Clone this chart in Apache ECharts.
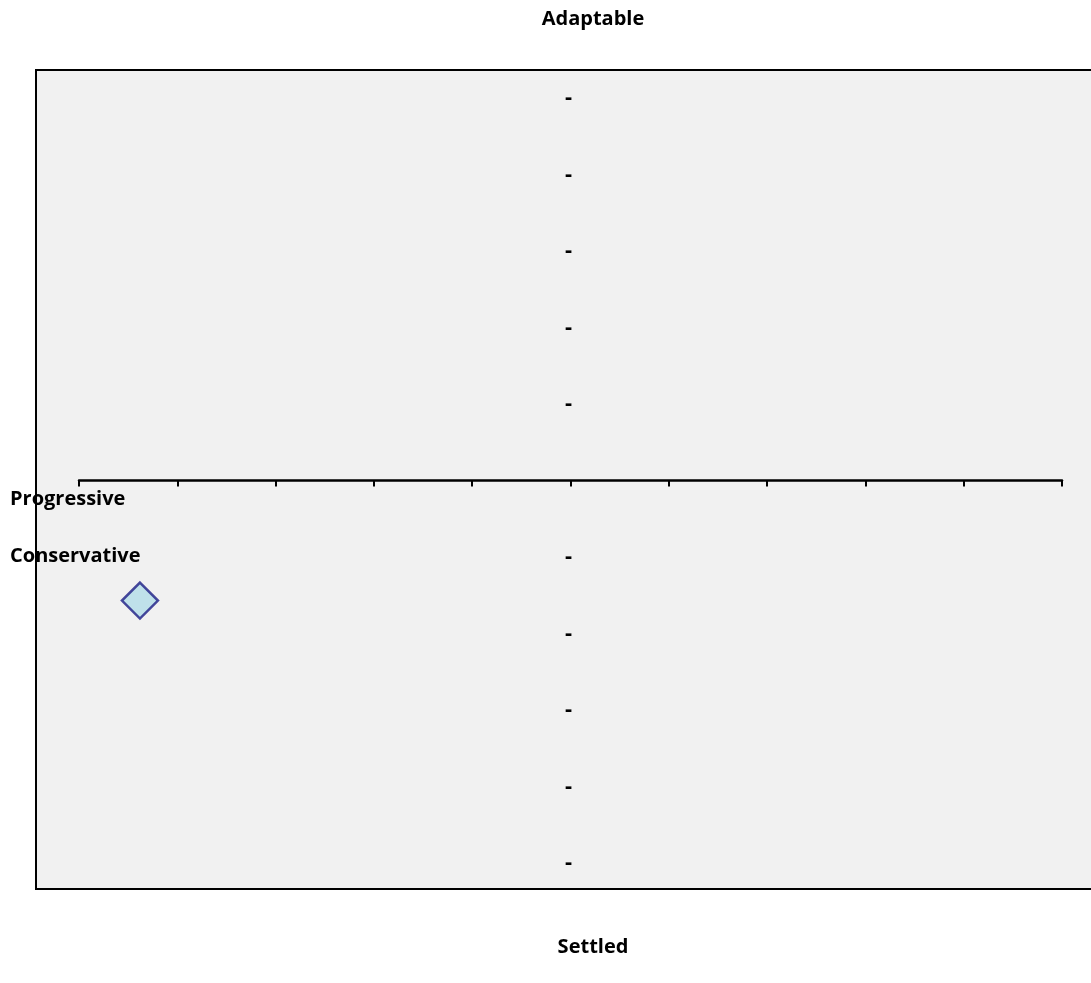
<!DOCTYPE html>
<html>
<head>
<meta charset="utf-8">
<title>Adaptable / Settled</title>
<script src="https://cdn.jsdelivr.net/npm/echarts@6/dist/echarts.min.js"></script>
<style>
  html, body { margin: 0; padding: 0; background: #ffffff; }
  #chart { width: 1091px; height: 983px; }
</style>
</head>
<body>
<div id="chart"></div>
<script>
// Axis extents (both axes run symmetric around zero)
const xRange = [-5, 5];
const yRange = [-5, 5];
const tickStep = 1;

// Plotted position
const pointX = [-4.38];
const pointY = [-1.57];

// Pole labels
const topLabel = 'Adaptable';
const bottomLabel = 'Settled';
const leftLabels = ['Progressive', 'Conservative'];

const FONT = '"Open Sans", "Noto Sans", sans-serif';
const GRID = { left: 79, right: 29, top: 98, bottom: 120 };

const chart = echarts.init(document.getElementById('chart'), null, { renderer: 'canvas' });

const option = {
  backgroundColor: '#ffffff',
  animation: false,
  grid: Object.assign({ containLabel: false }, GRID),
  xAxis: {
    type: 'value',
    min: xRange[0], max: xRange[1], interval: tickStep,
    axisLine: { show: true, onZero: true, lineStyle: { color: '#000', width: 2.5 } },
    axisTick: { show: true, length: 6, lineStyle: { color: '#000', width: 2 } },
    axisLabel: { show: false },
    splitLine: { show: false }
  },
  yAxis: {
    type: 'value',
    min: yRange[0], max: yRange[1], interval: tickStep,
    axisLine: { show: false, onZero: false },
    axisTick: { show: false },
    axisLabel: {
      show: true,
      formatter: v => (v === 0 ? '' : '-'),
      align: 'center',
      margin: 2,
      color: '#000',
      fontWeight: 'bold',
      fontSize: 22,
      fontFamily: FONT
    },
    splitLine: { show: false }
  },
  graphic: [
    {
      type: 'rect', z: -10, silent: true,
      shape: { x: 36, y: 70, width: 1080, height: 819 },
      style: { fill: '#f1f1f1', stroke: '#000', lineWidth: 2 }
    },
    {
      type: 'text', x: 593, y: 19,
      style: { text: topLabel, textAlign: 'center', textVerticalAlign: 'middle',
               font: 'bold 20px ' + FONT, fill: '#000' }
    },
    {
      type: 'text', x: 593, y: 947,
      style: { text: bottomLabel, textAlign: 'center', textVerticalAlign: 'middle',
               font: 'bold 20px ' + FONT, fill: '#000' }
    },
    {
      type: 'text', x: 10, y: 499,
      style: { text: leftLabels[0], textAlign: 'left', textVerticalAlign: 'middle',
               font: 'bold 20px ' + FONT, fill: '#000' }
    },
    {
      type: 'text', x: 10, y: 556,
      style: { text: leftLabels[1], textAlign: 'left', textVerticalAlign: 'middle',
               font: 'bold 20px ' + FONT, fill: '#000' }
    }
  ],
  series: [
    {
      type: 'scatter',
      data: pointX.map((x, i) => [x, pointY[i]]),
      symbol: 'diamond',
      symbolSize: 36,
      itemStyle: { color: '#b3dde8', borderColor: '#1c1c84', borderWidth: 2.5 },
      z: 5
    }
  ]
};

chart.setOption(option);

// Move the vertical axis labels onto x = 0, using the x scale to find it
const zeroX = chart.convertToPixel({ xAxisIndex: 0 }, 0);
chart.setOption({ yAxis: { offset: -(zeroX - GRID.left) } });
</script>
</body>
</html>
